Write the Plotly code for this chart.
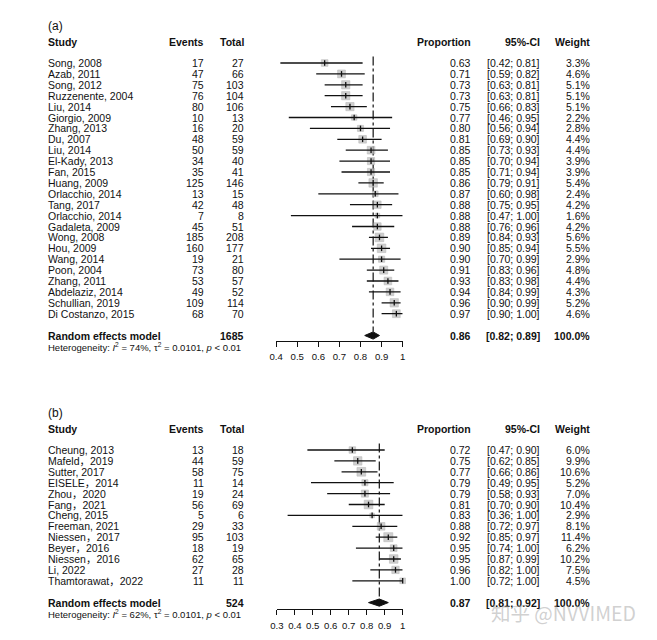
import plotly.graph_objects as go

# ---------------- data: panel (a) ----------------
a_study = ["Song, 2008", "Azab, 2011", "Song, 2012", "Ruzzenente, 2004", "Liu, 2014",
           "Giorgio, 2009", "Zhang, 2013", "Du, 2007", "Liu, 2014", "El-Kady, 2013",
           "Fan, 2015", "Huang, 2009", "Orlacchio, 2014", "Tang, 2017", "Orlacchio, 2014",
           "Gadaleta, 2009", "Wong, 2008", "Hou, 2009", "Wang, 2014", "Poon, 2004",
           "Zhang, 2011", "Abdelaziz, 2014", "Schullian, 2019", "Di Costanzo, 2015"]
a_events = [17, 47, 75, 76, 80, 10, 16, 48, 50, 34, 35, 125, 13, 42, 7, 45, 185, 160, 19, 73, 53, 49, 109, 68]
a_total = [27, 66, 103, 104, 106, 13, 20, 59, 59, 40, 41, 146, 15, 48, 8, 51, 208, 177, 21, 80, 57, 52, 114, 70]
a_prop = [0.63, 0.71, 0.73, 0.73, 0.75, 0.77, 0.80, 0.81, 0.85, 0.85, 0.85, 0.86, 0.87, 0.88, 0.88,
          0.88, 0.89, 0.90, 0.90, 0.91, 0.93, 0.94, 0.96, 0.97]
a_lo = [0.42, 0.59, 0.63, 0.63, 0.66, 0.46, 0.56, 0.69, 0.73, 0.70, 0.71, 0.79, 0.60, 0.75, 0.47,
        0.76, 0.84, 0.85, 0.70, 0.83, 0.83, 0.84, 0.90, 0.90]
a_hi = [0.81, 0.82, 0.81, 0.81, 0.83, 0.95, 0.94, 0.90, 0.93, 0.94, 0.94, 0.91, 0.98, 0.95, 1.00,
        0.96, 0.93, 0.94, 0.99, 0.96, 0.98, 0.99, 0.99, 1.00]
a_weight = [3.3, 4.6, 5.1, 5.1, 5.1, 2.2, 2.8, 4.4, 4.4, 3.9, 3.9, 5.4, 2.4, 4.2, 1.6, 4.2, 5.6, 5.5,
            2.9, 4.8, 4.4, 4.3, 5.2, 4.6]
a_pooled = {"total": 1685, "est": 0.86, "lo": 0.82, "hi": 0.89,
            "het": "Heterogeneity: <i>I</i><sup>2</sup> = 74%, τ<sup>2</sup> = 0.0101, <i>p</i> &lt; 0.01"}
a_ticks = [0.4, 0.5, 0.6, 0.7, 0.8, 0.9, 1.0]
a_ticktext = ["0.4", "0.5", "0.6", "0.7", "0.8", "0.9", "1"]

# ---------------- data: panel (b) ----------------
b_study = ["Cheung, 2013", "Mafeld，2019", "Sutter, 2017", "EISELE，2014", "Zhou，2020",
           "Fang，2021", "Cheng, 2015", "Freeman, 2021", "Niessen，2017", "Beyer，2016",
           "Niessen，2016", "Li, 2022", "Thamtorawat，2022"]
b_events = [13, 44, 58, 11, 19, 56, 5, 29, 95, 18, 62, 27, 11]
b_total = [18, 59, 75, 14, 24, 69, 6, 33, 103, 19, 65, 28, 11]
b_prop = [0.72, 0.75, 0.77, 0.79, 0.79, 0.81, 0.83, 0.88, 0.92, 0.95, 0.95, 0.96, 1.00]
b_lo = [0.47, 0.62, 0.66, 0.49, 0.58, 0.70, 0.36, 0.72, 0.85, 0.74, 0.87, 0.82, 0.72]
b_hi = [0.90, 0.85, 0.86, 0.95, 0.93, 0.90, 1.00, 0.97, 0.97, 1.00, 0.99, 1.00, 1.00]
b_weight = [6.0, 9.9, 10.6, 5.2, 7.0, 10.4, 2.9, 8.1, 11.4, 6.2, 10.2, 7.5, 4.5]
b_pooled = {"total": 524, "est": 0.87, "lo": 0.81, "hi": 0.92,
            "het": "Heterogeneity: <i>I</i><sup>2</sup> = 62%, τ<sup>2</sup> = 0.0101, <i>p</i> &lt; 0.01"}
b_ticks = [0.3, 0.4, 0.5, 0.6, 0.7, 0.8, 0.9, 1.0]
b_ticktext = ["0.3", "0.4", "0.5", "0.6", "0.7", "0.8", "0.9", "1"]

# ---------------- layout constants (pixels) ----------------
W, H = 657, 640
FONT = "Liberation Sans, Arial, Noto Sans CJK SC, sans-serif"
TXT = "#111111"
FS = 10.5
ROWH = 10.9
COL_STUDY = 40
COL_EVENTS = 202
COL_TOTAL = 243
COL_PROP = 473
COL_CI = 543
COL_W = 594


def px(x):
    return x / W


fig = go.Figure()
annotations = []


def add_panel(tag, label, study, events, total, prop, lo, hi, weight, pooled, ticks, ticktext,
              row0_px, ydom_px, xdom_px, axis_px, xrange, sqmax, tickfs):
    n = len(study)
    xa = "x" if tag == "" else "x" + tag
    ya = "y" if tag == "" else "y" + tag
    top_row = (ydom_px[0] - row0_px) / ROWH
    bot_row = (ydom_px[1] - row0_px) / ROWH
    yaxis = dict(domain=[1 - ydom_px[1] / H, 1 - ydom_px[0] / H], range=[bot_row, top_row],
                 visible=False, anchor=xa, fixedrange=True)
    xaxis = dict(domain=[px(xdom_px[0]), px(xdom_px[1])], range=xrange, anchor="free",
                 position=1 - axis_px / H, showline=True, linecolor="#111", linewidth=1.2,
                 ticks="outside", ticklen=5, tickwidth=1.2, tickcolor="#111",
                 tickvals=ticks, ticktext=ticktext, showgrid=False, zeroline=False,
                 tickfont=dict(family=FONT, size=tickfs, color=TXT), ticklabelstandoff=2,
                 fixedrange=True)
    fig.layout["xaxis" + tag] = xaxis
    fig.layout["yaxis" + tag] = yaxis

    rows = list(range(n))
    wmax = max(weight)
    sizes = [sqmax * (w / wmax) ** 0.5 for w in weight]

    fig.add_trace(go.Scatter(x=[pooled["est"], pooled["est"]], y=[-0.6, n + 0.65], mode="lines",
                             line=dict(color="#111", width=1.2, dash="dashdot"),
                             xaxis=xa, yaxis=ya, hoverinfo="skip", showlegend=False))
    fig.add_trace(go.Scatter(x=prop, y=rows, mode="markers",
                             marker=dict(symbol="square", size=sizes, color="#bbbbbb",
                                         line=dict(color="#a0a0a0", width=0.6)),
                             xaxis=xa, yaxis=ya, cliponaxis=False, hoverinfo="skip", showlegend=False))
    cx, cy = [], []
    for i in range(n):
        cx += [lo[i], hi[i], None]
        cy += [i, i, None]
    fig.add_trace(go.Scatter(x=cx, y=cy, mode="lines", line=dict(color="#111", width=1.3),
                             xaxis=xa, yaxis=ya, hoverinfo="skip", showlegend=False))
    fig.add_trace(go.Scatter(x=prop, y=rows, mode="markers",
                             marker=dict(symbol="line-ns", size=4, line=dict(color="#111", width=1.3)),
                             xaxis=xa, yaxis=ya, cliponaxis=False, hoverinfo="skip", showlegend=False))
    r = n + 1
    fig.add_trace(go.Scatter(x=[pooled["lo"], pooled["est"], pooled["hi"], pooled["est"], pooled["lo"]],
                             y=[r, r - 0.33, r, r + 0.33, r], mode="lines", fill="toself",
                             fillcolor="#111", line=dict(color="#111", width=1),
                             xaxis=xa, yaxis=ya, hoverinfo="skip", showlegend=False))

    def ann(x, y, text, anchor, bold=False, size=FS):
        annotations.append(dict(x=px(x), y=y, xref="paper", yref=ya, text=("<b>%s</b>" % text) if bold else text,
                                xanchor=anchor, yanchor="middle", showarrow=False,
                                font=dict(family=FONT, size=size, color=TXT)))

    ann(COL_STUDY, -3.4, label, "left", size=12)
    hr = -1.93
    ann(COL_STUDY, hr, "Study", "left", True)
    ann(COL_EVENTS, hr, "Events", "right", True)
    ann(COL_TOTAL, hr, "Total", "right", True)
    ann(COL_PROP, hr, "Proportion", "right", True)
    ann(COL_CI, hr, "95%-CI", "right", True)
    ann(COL_W, hr, "Weight", "right", True)
    for i in range(n):
        ann(COL_STUDY, i, study[i], "left")
        ann(COL_EVENTS, i, str(events[i]), "right")
        ann(COL_TOTAL, i, str(total[i]), "right")
        ann(COL_PROP, i, "%.2f" % prop[i], "right")
        ann(COL_CI, i, "[%.2f; %.2f]" % (lo[i], hi[i]), "right")
        ann(COL_W, i, "%.1f%%" % weight[i], "right")
    ann(COL_STUDY, r, "Random effects model", "left", True)
    ann(COL_TOTAL, r, str(pooled["total"]), "right", True)
    ann(COL_PROP, r, "%.2f" % pooled["est"], "right", True)
    ann(COL_CI, r, "[%.2f; %.2f]" % (pooled["lo"], pooled["hi"]), "right", True)
    ann(COL_W, r, "100.0%", "right", True)
    ann(COL_STUDY, r + 1.05, pooled["het"], "left", size=9.5)


add_panel("", "(a)", a_study, a_events, a_total, a_prop, a_lo, a_hi, a_weight, a_pooled,
          a_ticks, a_ticktext, row0_px=63, ydom_px=(0, 371), xdom_px=(273.3, 401.8),
          axis_px=340.5, xrange=[0.4, 1.0], sqmax=8.6, tickfs=9.6)
add_panel("2", "(b)", b_study, b_events, b_total, b_prop, b_lo, b_hi, b_weight, b_pooled,
          b_ticks, b_ticktext, row0_px=450, ydom_px=(371, 640), xdom_px=(274, 401.8),
          axis_px=609, xrange=[0.3, 1.0], sqmax=9.0, tickfs=9.6)

annotations.append(dict(x=px(565), y=1 - 612 / H, xref="paper", yref="paper", text="知乎 @NVVIMED",
                        xanchor="center", yanchor="middle", showarrow=False,
                        font=dict(family="Noto Sans CJK SC, sans-serif", size=19.5,
                                  color="rgba(170,170,170,0.55)")))

fig.update_layout(width=W, height=H, autosize=False, margin=dict(l=0, r=0, t=0, b=0),
                  paper_bgcolor="white", plot_bgcolor="rgba(0,0,0,0)",
                  annotations=annotations, showlegend=False)

fig.write_html("out.html", config={"displayModeBar": False},
               post_script="document.body.style.margin='0px';")
